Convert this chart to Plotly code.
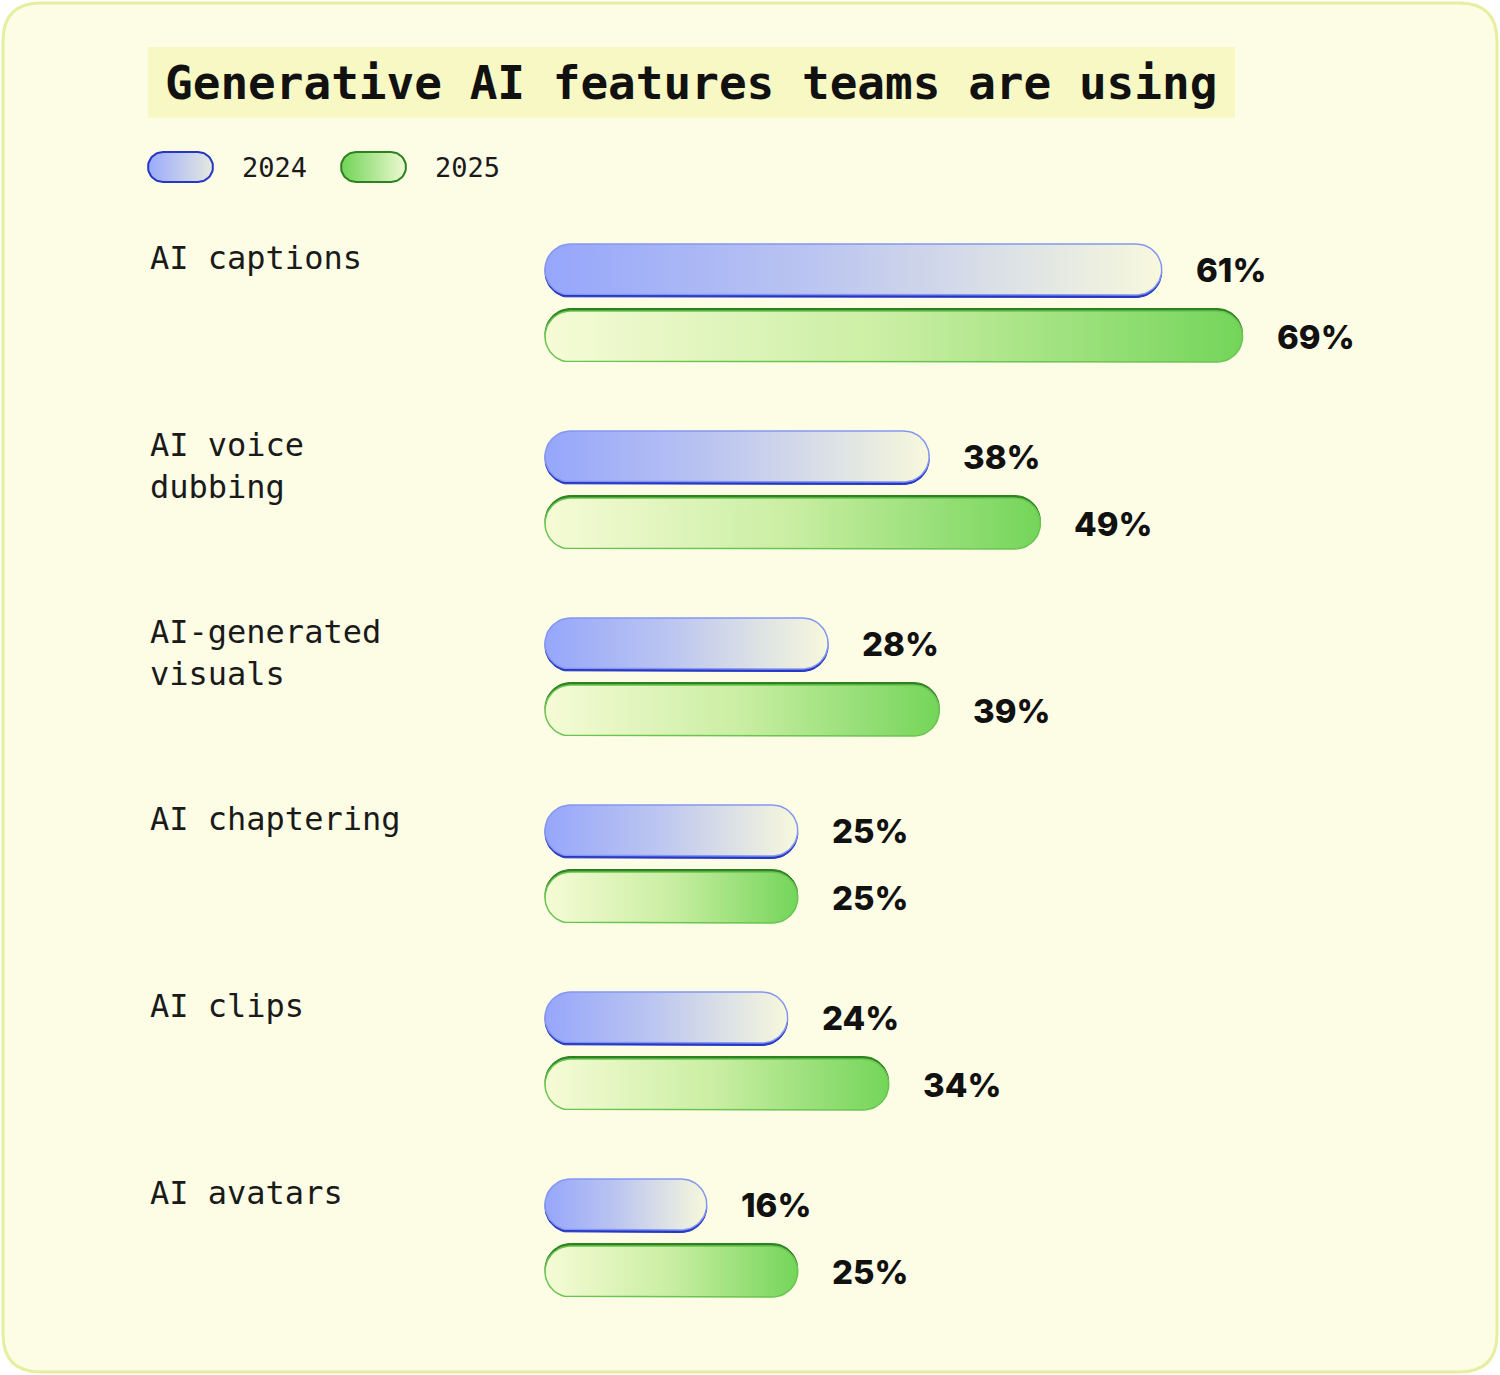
import numpy as np
import plotly.graph_objects as go

# ---- data ----
title = "Generative AI features teams are using"
categories = ["AI captions", "AI voice<br>dubbing", "AI-generated<br>visuals",
              "AI chaptering", "AI clips", "AI avatars"]
years = ["2024", "2025"]
values_2024 = [61, 38, 28, 25, 24, 16]
values_2025 = [69, 49, 39, 25, 34, 25]

# ---- geometry (pixels) ----
W, H = 1500, 1375
PX_PER_PCT = 10.11      # bar length per percent
X0_PX = 545             # where 0% sits
GROUP_PX = 187          # distance between groups
GROUP0_PX = 303         # centre of first group
BAR_H = 51
BAR_OFF = 33.5          # bar centre offset from group centre

x_range = [-X0_PX / PX_PER_PCT, (W - X0_PX) / PX_PER_PCT]
y_range = [(H - GROUP0_PX) / GROUP_PX, -GROUP0_PX / GROUP_PX]

styles = {
    "2024": dict(scale=[[0, "#96a6fb"], [0.45, "#bcc6f0"], [1, "#f7f8dc"]],
                 edge="#8596f2", shadow="#2537c4", dy=2.5,
                 swatch=[[0, "#9aaafc"], [1, "#e6e9e0"]]),
    "2025": dict(scale=[[0, "#f6fbd6"], [0.5, "#c9eea2"], [1, "#74d55a"]],
                 edge="#6ac450", shadow="#2c8220", dy=-2.5,
                 swatch=[[0, "#70d356"], [1, "#eefad2"]]),
}


def pill(x0, x1, yc, rx, ry, n=28):
    t = np.linspace(-np.pi / 2, np.pi / 2, n)
    xs = np.concatenate([(x1 - rx) + rx * np.cos(t), (x0 + rx) - rx * np.cos(t), [(x1 - rx)]])
    ys = np.concatenate([yc + ry * np.sin(t), yc - ry * np.sin(t), [yc - ry]])
    return xs, ys


fig = go.Figure()
annotations = []

rx = BAR_H / 2 / PX_PER_PCT
ry = BAR_H / 2 / GROUP_PX
for yr, vals, sign in [("2024", values_2024, -1), ("2025", values_2025, 1)]:
    st = styles[yr]
    for i, v in enumerate(vals):
        yc = i + sign * BAR_OFF / GROUP_PX
        # darker edge peeking out on one side
        xs, ys = pill(0, v, yc + st["dy"] / GROUP_PX, rx, ry)
        fig.add_trace(go.Scatter(x=xs, y=ys, mode="lines", fill="toself",
                                 fillcolor=st["shadow"], line=dict(color=st["shadow"], width=1),
                                 hoverinfo="skip", showlegend=False))
        xs, ys = pill(0, v, yc, rx, ry)
        fig.add_trace(go.Scatter(x=xs, y=ys, mode="lines", fill="toself",
                                 fillgradient=dict(type="horizontal", colorscale=st["scale"]),
                                 line=dict(color=st["edge"], width=1.5),
                                 hoverinfo="skip", showlegend=False))
        annotations.append(dict(x=v, y=yc, xref="x", yref="y", text=f"{v}%",
                                xanchor="left", yanchor="middle", xshift=32, showarrow=False,
                                font=dict(family="Inter", size=33, weight=800, color="#111111")))

# category labels, top-aligned with the 2024 bar
for i, cat in enumerate(categories):
    annotations.append(dict(x=148 / W, y=i - BAR_OFF / GROUP_PX, xref="paper", yref="y",
                            text=cat, xanchor="left", yanchor="top", align="left",
                            yshift=33, showarrow=False,
                            font=dict(family="DejaVu Sans Mono", size=32, color="#1a1a1a")))

# legend swatches (pixel axes x2/y2)
for j, yr in enumerate(years):
    sx = 148 + 193 * j
    xs, ys = pill(sx, sx + 65, 167, 15, 15)
    fig.add_trace(go.Scatter(x=xs, y=ys, xaxis="x2", yaxis="y2", mode="lines", fill="toself",
                             fillgradient=dict(type="horizontal", colorscale=styles[yr]["swatch"]),
                             line=dict(color=styles[yr]["shadow"], width=2),
                             hoverinfo="skip", showlegend=False))
    annotations.append(dict(x=sx + 92, y=167, xref="x2", yref="y2", text=yr,
                            xanchor="left", yanchor="middle", showarrow=False,
                            font=dict(family="DejaVu Sans Mono", size=27, color="#1a1a1a")))

annotations.append(dict(x=163 / W, y=1 - 83 / H, xref="paper", yref="paper", text=title,
                        xanchor="left", yanchor="middle", showarrow=False,
                        font=dict(family="DejaVu Sans Mono", size=46, weight=600, color="#111111")))


# card outline
def rounded_rect(x0, y0, x1, y1, r):
    fx = lambda p: p / W
    fy = lambda p: 1 - p / H
    pts = [f"M {fx(x0 + r)},{fy(y0)}", f"L {fx(x1 - r)},{fy(y0)}",
           f"Q {fx(x1)},{fy(y0)} {fx(x1)},{fy(y0 + r)}", f"L {fx(x1)},{fy(y1 - r)}",
           f"Q {fx(x1)},{fy(y1)} {fx(x1 - r)},{fy(y1)}", f"L {fx(x0 + r)},{fy(y1)}",
           f"Q {fx(x0)},{fy(y1)} {fx(x0)},{fy(y1 - r)}", f"L {fx(x0)},{fy(y0 + r)}",
           f"Q {fx(x0)},{fy(y0)} {fx(x0 + r)},{fy(y0)}", "Z"]
    return " ".join(pts)


shapes = [
    dict(type="path", path=rounded_rect(3, 3, 1497, 1372, 38), xref="paper", yref="paper",
         fillcolor="#fdfde6", line=dict(color="#e6eea0", width=3), layer="below"),
    dict(type="rect", x0=148 / W, x1=1235 / W, y0=1 - 47 / H, y1=1 - 118 / H,
         xref="paper", yref="paper", fillcolor="#f8f8c4", line=dict(width=0), layer="below"),
]

fig.update_layout(
    width=W, height=H,
    margin=dict(l=0, r=0, t=0, b=0),
    paper_bgcolor="white", plot_bgcolor="rgba(0,0,0,0)",
    xaxis=dict(range=x_range, visible=False, fixedrange=True),
    yaxis=dict(range=y_range, visible=False, fixedrange=True),
    xaxis2=dict(range=[0, W], visible=False, fixedrange=True, anchor="y2", domain=[0, 1]),
    yaxis2=dict(range=[H, 0], visible=False, fixedrange=True, anchor="x2", domain=[0, 1]),
    shapes=shapes,
    annotations=annotations,
    showlegend=False,
)

fig.write_html("out.html", config={"displayModeBar": False},
               post_script="document.body.style.margin='0';")
